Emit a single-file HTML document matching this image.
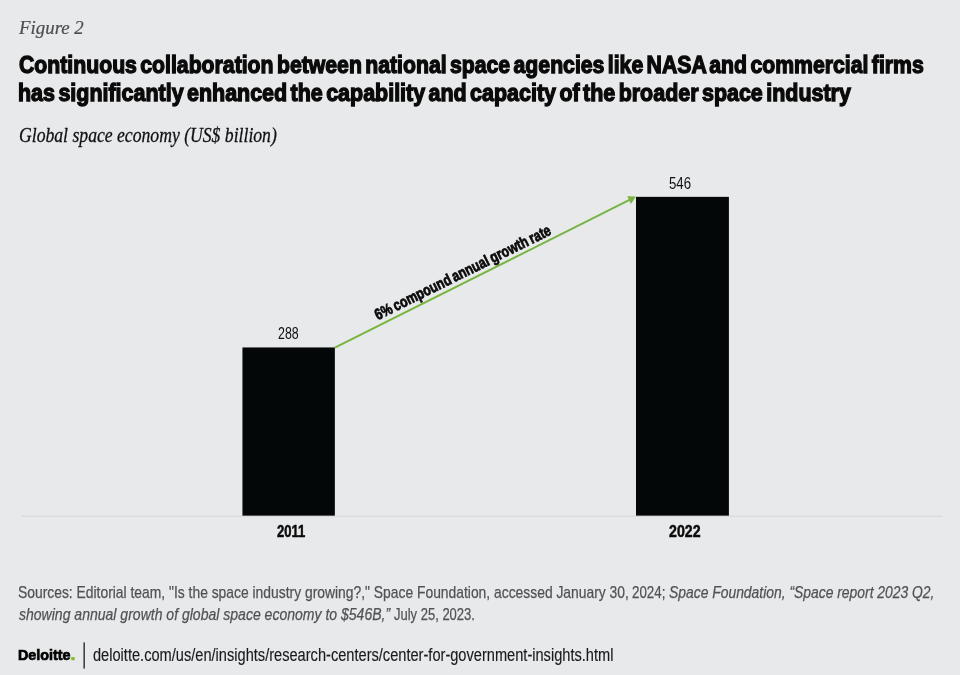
<!DOCTYPE html>
<html lang="en"><head><meta charset="utf-8"><title>Figure 2</title>
<style>
html,body{margin:0;padding:0;}
body{width:960px;height:675px;background:#e8e9eb;position:relative;overflow:hidden;}
.t{position:absolute;white-space:nowrap;line-height:1;transform-origin:0 0;margin:0;padding:0;}
.bar{position:absolute;background:#040707;}
</style></head><body>
<div class="t" id="fig" style='left:18.91px;top:19.00px;font-family:"Liberation Serif", serif;font-size:18.5px;font-style:italic;font-weight:400;color:#4d4e50;-webkit-text-stroke:0.2px #4d4e50;transform:scaleX(1.0198);'>Figure 2</div>
<div class="t" id="t1" style='left:18.98px;top:53.59px;font-family:"Liberation Sans", sans-serif;font-size:23.6px;font-style:normal;font-weight:700;color:#0a0a0a;-webkit-text-stroke:1.3px #0a0a0a;word-spacing:-2.8px;transform:scale(0.8997,0.9950);'>Continuous collaboration between national space agencies like NASA and commercial firms</div>
<div class="t" id="t2" style='left:18.39px;top:82.09px;font-family:"Liberation Sans", sans-serif;font-size:23.6px;font-style:normal;font-weight:700;color:#0a0a0a;-webkit-text-stroke:1.3px #0a0a0a;word-spacing:-2.8px;transform:scale(0.9094,0.9950);'>has significantly enhanced the capability and capacity of the broader space industry</div>
<div class="t" id="sub" style='left:18.53px;top:124.90px;font-family:"Liberation Serif", serif;font-size:20.5px;font-style:italic;font-weight:400;color:#111;-webkit-text-stroke:0.3px #111;transform:scaleX(0.8609);'>Global space economy (US$ billion)</div>
<div class="t" id="v1" style='left:277.88px;top:325.44px;font-family:"Liberation Sans", sans-serif;font-size:16.2px;font-style:normal;font-weight:400;color:#111;transform:scale(0.7664,0.9900);'>288</div>
<div class="t" id="v2" style='left:669.19px;top:174.54px;font-family:"Liberation Sans", sans-serif;font-size:16.2px;font-style:normal;font-weight:400;color:#111;transform:scale(0.8163,0.9900);'>546</div>
<div class="t" id="y1" style='left:277.09px;top:523.49px;font-family:"Liberation Sans", sans-serif;font-size:16.5px;font-style:normal;font-weight:700;color:#0a0a0a;-webkit-text-stroke:0.5px #0a0a0a;transform:scale(0.7930,0.9900);'>2011</div>
<div class="t" id="y2" style='left:668.97px;top:523.49px;font-family:"Liberation Sans", sans-serif;font-size:16.5px;font-style:normal;font-weight:700;color:#0a0a0a;-webkit-text-stroke:0.5px #0a0a0a;transform:scale(0.8582,0.9900);'>2022</div>
<div class="t" id="s1a" style='left:18.34px;top:584.50px;font-family:"Liberation Sans", sans-serif;font-size:16.6px;font-style:normal;font-weight:400;color:#515254;-webkit-text-stroke:0.25px #515254;transform:scaleX(0.8354);'>Sources: Editorial team, "Is the space industry growing?," Space Foundation, accessed January 30,</div>
<div class="t" id="s1b" style='left:632.30px;top:584.50px;font-family:"Liberation Sans", sans-serif;font-size:16.6px;font-style:normal;font-weight:400;color:#515254;-webkit-text-stroke:0.25px #515254;transform:scaleX(0.8030);'>2024;</div>
<div class="t" id="s1c" style='left:668.59px;top:584.50px;font-family:"Liberation Sans", sans-serif;font-size:16.6px;font-style:italic;font-weight:400;color:#515254;-webkit-text-stroke:0.25px #515254;transform:scaleX(0.8365);'>Space Foundation, “Space report 2023 Q2,</div>
<div class="t" id="s2a" style='left:18.83px;top:606.50px;font-family:"Liberation Sans", sans-serif;font-size:16.6px;font-style:italic;font-weight:400;color:#515254;-webkit-text-stroke:0.25px #515254;transform:scaleX(0.8452);'>showing annual growth of global space economy to $546B,”</div>
<div class="t" id="s2b" style='left:394.25px;top:606.50px;font-family:"Liberation Sans", sans-serif;font-size:16.6px;font-style:normal;font-weight:400;color:#515254;-webkit-text-stroke:0.25px #515254;transform:scaleX(0.7829);'>July 25, 2023.</div>
<div class="t" id="logo" style='left:17.92px;top:648.04px;font-family:"Liberation Sans", sans-serif;font-size:14.3px;font-style:normal;font-weight:700;color:#000;-webkit-text-stroke:0.7px #000;transform:scale(1.0020,0.9800);'>Deloitte<span style="color:#86bc25;-webkit-text-stroke-color:#86bc25;font-size:1.25em;line-height:0">.</span></div>
<div class="t" id="url" style='left:93.45px;top:646.87px;font-family:"Liberation Sans", sans-serif;font-size:17.6px;font-style:normal;font-weight:400;color:#1a1a1a;-webkit-text-stroke:0.15px #1a1a1a;transform:scale(0.8303,0.9950);'>deloitte.com/us/en/insights/research-centers/center-for-government-insights.html</div>

<svg width="960" height="675" viewBox="0 0 960 675" style="position:absolute;left:0;top:0;">
<rect x="21" y="515.6" width="921.5" height="1.3" fill="#d9dadc"/>
<rect x="242.45" y="347.45" width="92.4" height="168.2" fill="#040707"/>
<rect x="636" y="196.85" width="92.9" height="318.8" fill="#040707"/>
<line x1="334.9" y1="347.7" x2="630" y2="199.7" stroke="#78b340" stroke-width="1.9"/>
<polygon points="635.9,196.6 627.2,196.2 631,204" fill="#7ab541"/>
<text id="diag" transform="translate(377.8 320.2) rotate(-26.3)" font-family='"Liberation Sans", sans-serif' font-size="15.6" font-weight="700" fill="#0a0a0a" stroke="#0a0a0a" stroke-width="0.75" style="word-spacing:-1.2px" textLength="194.6" lengthAdjust="spacingAndGlyphs">6% compound annual growth rate</text>
<rect x="83.5" y="642.4" width="1.3" height="26.2" fill="#1c1c1c"/>
</svg>
</body></html>
